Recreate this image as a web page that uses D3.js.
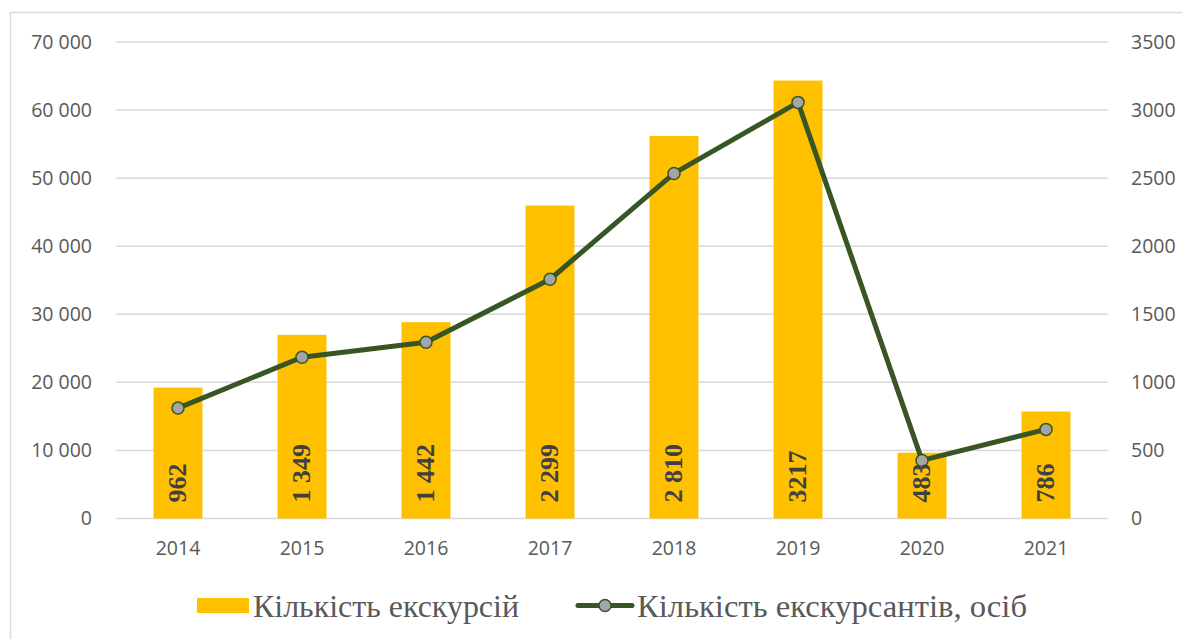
<!DOCTYPE html>
<meta charset="utf-8">
<style>
body { margin: 0; background: #fff; }
svg { display: block; }
</style>
<body>
<script src="https://cdn.jsdelivr.net/npm/d3@7"></script>
<script>
// data
var years = ["2014", "2015", "2016", "2017", "2018", "2019", "2020", "2021"];
var tours = [962, 1349, 1442, 2299, 2810, 3217, 483, 786];          // bars, right axis
var tourLabels = ["962", "1 349", "1 442", "2 299", "2 810", "3217", "483", "786"];
var visitors = [16220, 23680, 25880, 35150, 50690, 61130, 8530, 13090]; // line, left axis
var leftTicks = [0, 10000, 20000, 30000, 40000, 50000, 60000, 70000];
var rightTicks = [0, 500, 1000, 1500, 2000, 2500, 3000, 3500];
var legendNames = ["Кількість екскурсій", "Кількість екскурсантів, осіб"];

var width = 1182, height = 639;
var barColor = "#FFC000", lineColor = "#375623", markerFill = "#A5A5A5",
    gridColor = "#d9d9d9", textColor = "#595959";

var svg = d3.select("body").append("svg")
    .attr("width", width)
    .attr("height", height);

// outer frame
svg.append("rect")
    .attr("x", 10.5).attr("y", 12.5)
    .attr("width", 1200).attr("height", 700)
    .attr("fill", "none")
    .attr("stroke", gridColor)
    .attr("stroke-width", 1.5);

var x = d3.scaleBand().domain(years).range([116, 1108]).padding(0);
var yL = d3.scaleLinear().domain([0, 70000]).range([518.5, 42]);
var yR = d3.scaleLinear().domain([0, 3500]).range([518.5, 42]);

// gridlines
svg.append("g").selectAll("line")
    .data(leftTicks)
    .enter()
    .append("line")
    .attr("x1", 116).attr("x2", 1108)
    .attr("y1", function(d) { return yL(d); })
    .attr("y2", function(d) { return yL(d); })
    .attr("stroke", gridColor)
    .attr("stroke-width", 1.5);

var fmt = function(d) { return d3.format(",")(d).replace(/,/g, " "); };

var leftAxis = svg.append("g")
    .attr("transform", "translate(92,0)")
    .call(d3.axisLeft(yL).tickValues(leftTicks).tickSize(0).tickPadding(0).tickFormat(fmt));
var rightAxis = svg.append("g")
    .attr("transform", "translate(1131,0)")
    .call(d3.axisRight(yR).tickValues(rightTicks).tickSize(0).tickPadding(0).tickFormat(d3.format("d")));
var bottomAxis = svg.append("g")
    .attr("transform", "translate(0,540)")
    .call(d3.axisBottom(x).tickSize(0).tickPadding(0));

[leftAxis, rightAxis, bottomAxis].forEach(function(a) {
    a.select(".domain").remove();
    a.selectAll("text")
        .attr("fill", textColor)
        .style("font-family", "'Open Sans', sans-serif")
        .style("font-size", "19.5px");
});
bottomAxis.selectAll("text").attr("dy", "0.75em");

// bars
var barW = x.bandwidth() * 0.395;
svg.append("g").selectAll("rect")
    .data(tours)
    .enter()
    .append("rect")
    .attr("x", function(d, i) { return x(years[i]) + x.bandwidth() / 2 - barW / 2; })
    .attr("y", function(d) { return yR(d); })
    .attr("width", barW)
    .attr("height", function(d) { return yR(0) - yR(d); })
    .attr("fill", barColor);

// line
var line = d3.line()
    .x(function(d, i) { return x(years[i]) + x.bandwidth() / 2; })
    .y(function(d) { return yL(d); });

svg.append("path")
    .datum(visitors)
    .attr("d", line)
    .attr("fill", "none")
    .attr("stroke", lineColor)
    .attr("stroke-width", 5)
    .attr("stroke-linejoin", "round");

svg.append("g").selectAll("circle")
    .data(visitors)
    .enter()
    .append("circle")
    .attr("cx", function(d, i) { return x(years[i]) + x.bandwidth() / 2; })
    .attr("cy", function(d) { return yL(d); })
    .attr("r", 6)
    .attr("fill", markerFill)
    .attr("stroke", lineColor)
    .attr("stroke-width", 1.5);

// bar labels, rotated, inside base
svg.append("g").selectAll("text")
    .data(tourLabels)
    .enter()
    .append("text")
    .text(function(d) { return d; })
    .attr("transform", function(d, i) {
        return "translate(" + (x(years[i]) + x.bandwidth() / 2 - 1) + "," + (yR(0) - 16) + ") rotate(-90)";
    })
    .attr("dy", "0.35em")
    .attr("fill", "#404040")
    .style("font-family", "'Liberation Serif', 'Times New Roman', serif")
    .style("font-weight", "bold")
    .style("font-size", "26px");

// legend
var legend = svg.append("g");
legend.append("rect")
    .attr("x", 197).attr("y", 598)
    .attr("width", 52).attr("height", 15)
    .attr("fill", barColor);
legend.append("line")
    .attr("x1", 578).attr("x2", 632)
    .attr("y1", 605.5).attr("y2", 605.5)
    .attr("stroke", lineColor)
    .attr("stroke-width", 5)
    .attr("stroke-linecap", "round");
legend.append("circle")
    .attr("cx", 605).attr("cy", 605.5)
    .attr("r", 6)
    .attr("fill", markerFill)
    .attr("stroke", lineColor)
    .attr("stroke-width", 1.5);

legend.selectAll("text.lg")
    .data(legendNames)
    .enter()
    .append("text")
    .attr("class", "lg")
    .text(function(d) { return d; })
    .attr("x", function(d, i) { return i === 0 ? 253 : 637; })
    .attr("y", 617)
    .attr("fill", textColor)
    .style("font-family", "'Liberation Serif', 'Times New Roman', serif")
    .style("font-size", "32px")
    .attr("textLength", function(d, i) { return i === 0 ? 266 : 390; })
    .attr("lengthAdjust", "spacingAndGlyphs");
</script>
</body>
